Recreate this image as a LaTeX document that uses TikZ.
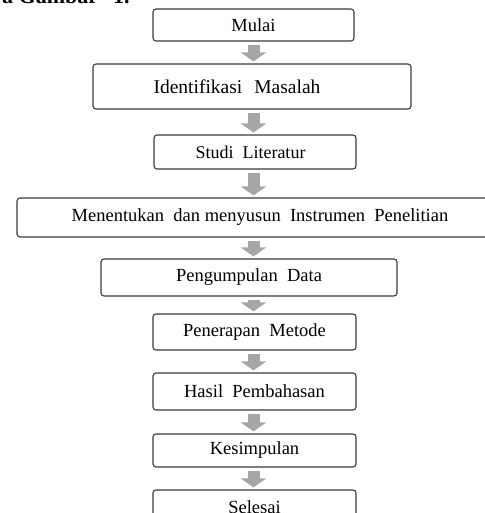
\documentclass[tikz,border=0pt]{standalone}
\usepackage{fontspec}
\setmainfont{Liberation Serif}
\usetikzlibrary{arrows.meta}
\definecolor{arrowgray}{HTML}{A6A6A6}
\definecolor{boxline}{HTML}{3A3A3A}
\tikzset{
  flowbox/.style={draw=boxline, line width=1.1pt, rounded corners=3pt, fill=white,
    inner sep=0pt, font=\fontsize{18.5}{20}\selectfont},
  blockarrow/.style={draw=arrowgray, line width=12pt,
    -{Triangle[width=25pt,length=9pt]}, shorten <=3pt, shorten >=2pt},
}
\newcommand{\dsp}{\ \ }
\begin{document}
\begin{tikzpicture}[x=1pt,y=1pt]
\useasboundingbox (0,0) rectangle (484,-513);
\node[anchor=base west, inner sep=0pt, font=\bfseries\fontsize{22}{24}\selectfont] (cap) at (2,-3.5) {a Gambar\hspace{15pt}1.};
\node[flowbox, minimum width=201pt, minimum height=32pt] (n1) at (253.5,-25) {Mulai};
\node[flowbox, minimum width=318pt, minimum height=45pt, font=\fontsize{19.5}{22}\selectfont] (n2) at (252,-86.5) {\hspace*{-30pt}Identifikasi\hspace{12pt}Masalah};
\node[flowbox, minimum width=202pt, minimum height=34pt, font=\fontsize{18}{20}\selectfont] (n3) at (255,-152) {\hspace*{-9pt}Studi\dsp Literatur};
\node[flowbox, minimum width=483pt, minimum height=39pt] (n4) at (258.5,-217.5) {\hspace*{3pt}Menentukan\dsp dan menyusun\dsp Instrumen\dsp Penelitian};
\node[flowbox, minimum width=296pt, minimum height=37pt] (n5) at (249,-277.5) {Pengumpulan\dsp Data};
\node[flowbox, minimum width=203pt, minimum height=36pt] (n6) at (254.5,-332) {Penerapan\dsp Metode};
\node[flowbox, minimum width=203pt, minimum height=37pt] (n7) at (254.5,-391.5) {Hasil\dsp Pembahasan};
\node[flowbox, minimum width=203pt, minimum height=33pt] (n8) at (254.5,-450.5) {Kesimpulan};
\node[flowbox, minimum width=203pt, minimum height=34pt] (n9) at (254.5,-507) {Selesai};
\foreach \a/\b in {n1/n2,n2/n3,n3/n4,n4/n5,n5/n6,n6/n7,n7/n8,n8/n9}{
  \draw[blockarrow] (\a.south -| 253.5,0) -- (\b.north -| 253.5,0);
}
\end{tikzpicture}
\end{document}
